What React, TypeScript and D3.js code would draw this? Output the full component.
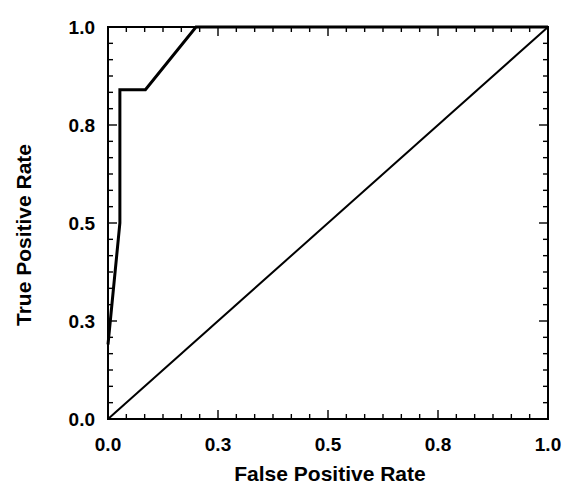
import * as d3 from "d3";
import { useEffect, useRef } from "react";

// ROC curve points
const fpr = [0, 0.027, 0.027, 0.085, 0.2, 1.0];
const tpr = [0.19, 0.5, 0.84, 0.84, 1.0, 1.0];
const chanceX = [0, 1];
const chanceY = [0, 1];
const majorTicks = [0, 0.25, 0.5, 0.75, 1.0];
const tickLabels = ["0.0", "0.3", "0.5", "0.8", "1.0"];

const W = 567;
const H = 486;
const margin = { top: 27, right: 19, bottom: 67, left: 108 };
const font = "'Liberation Sans', Arial, sans-serif";

function drawChart(el: SVGSVGElement) {
  const width = W - margin.left - margin.right;
  const height = H - margin.top - margin.bottom;

  const svg = d3.select(el);
  svg.selectAll("*").remove();

  const x = d3.scaleLinear().domain([0, 1]).range([0, width]);
  const y = d3.scaleLinear().domain([0, 1]).range([height, 0]);

  const g = svg
    .append("g")
    .attr("transform", `translate(${margin.left},${margin.top})`);

  const minorTicks = d3.range(0, 25).map((i) => i / 24).filter((_, i) => i % 6 !== 0);

  // inward ticks on all four sides
  const addTicks = (vals: number[], len: number) => {
    const t = g.append("g").attr("stroke", "#000").attr("stroke-width", 1.4);
    vals.forEach((v) => {
      t.append("line").attr("x1", x(v)).attr("x2", x(v)).attr("y1", height).attr("y2", height - len);
      t.append("line").attr("x1", x(v)).attr("x2", x(v)).attr("y1", 0).attr("y2", len);
      t.append("line").attr("x1", 0).attr("x2", len).attr("y1", y(v)).attr("y2", y(v));
      t.append("line").attr("x1", width).attr("x2", width - len).attr("y1", y(v)).attr("y2", y(v));
    });
  };
  addTicks(minorTicks, 5);
  addTicks(majorTicks, 9);

  // frame
  g.append("rect")
    .attr("x", 0)
    .attr("y", 0)
    .attr("width", width)
    .attr("height", height)
    .attr("fill", "none")
    .attr("stroke", "#000")
    .attr("stroke-width", 2);

  // chance diagonal
  const line = d3
    .line<number>()
    .x((d, i) => x(chanceX[i]))
    .y((d, i) => y(chanceY[i]));
  g.append("path")
    .datum(chanceX)
    .attr("d", line)
    .attr("fill", "none")
    .attr("stroke", "#000")
    .attr("stroke-width", 2);

  // ROC curve
  const roc = d3
    .line<number>()
    .x((d) => x(d))
    .y((d, i) => y(tpr[i]));
  g.append("path")
    .datum(fpr)
    .attr("d", roc)
    .attr("fill", "none")
    .attr("stroke", "#000")
    .attr("stroke-width", 3)
    .attr("stroke-linejoin", "miter");

  // tick labels
  majorTicks.forEach((v, i) => {
    g.append("text")
      .attr("x", x(v))
      .attr("y", height + 32)
      .attr("text-anchor", "middle")
      .attr("font-family", font)
      .attr("font-weight", "bold")
      .attr("font-size", 19)
      .text(tickLabels[i]);
    g.append("text")
      .attr("x", -13)
      .attr("y", y(v) + 7)
      .attr("text-anchor", "end")
      .attr("font-family", font)
      .attr("font-weight", "bold")
      .attr("font-size", 19)
      .text(tickLabels[i]);
  });

  // axis titles
  svg
    .append("text")
    .attr("x", 330)
    .attr("y", H - 5)
    .attr("text-anchor", "middle")
    .attr("font-family", font)
    .attr("font-weight", "bold")
    .attr("font-size", 21)
    .text("False Positive Rate");

  svg
    .append("text")
    .attr("transform", `translate(31,235)rotate(-90)`)
    .attr("text-anchor", "middle")
    .attr("font-family", font)
    .attr("font-weight", "bold")
    .attr("font-size", 21)
    .text("True Positive Rate");
}

export default function App() {
  const ref = useRef<SVGSVGElement>(null);
  useEffect(() => {
    if (ref.current) drawChart(ref.current);
  }, []);
  return (
    <svg
      ref={ref}
      width={W}
      height={H}
      style={{ position: "absolute", left: 0, top: 0, background: "#fff" }}
    />
  );
}
